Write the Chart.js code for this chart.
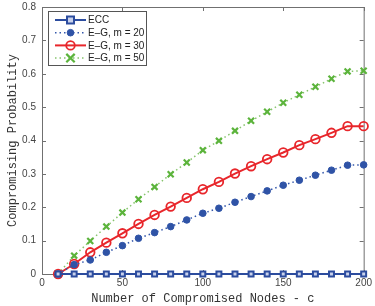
<!DOCTYPE html>
<html>
<head>
<meta charset="utf-8">
<script src="https://cdn.jsdelivr.net/npm/chart.js@4/dist/chart.umd.min.js"></script>
<style>
  html, body { margin: 0; padding: 0; background: #fff; }
  #wrap { width: 375px; height: 306px; position: relative; }
</style>
</head>
<body>
<div id="wrap"><canvas id="chart" width="375" height="306"></canvas></div>
<script>
// ================================
// DATA
// ================================
const compromisedNodes = [10, 20, 30, 40, 50, 60, 70, 80, 90, 100, 110, 120, 130, 140, 150, 160, 170, 180, 190, 200];
const ecc  = [0, 0, 0, 0, 0, 0, 0, 0, 0, 0, 0, 0, 0, 0, 0, 0, 0, 0, 0, 0];
const eg20 = [0, 0.028, 0.042, 0.065, 0.085, 0.107, 0.124, 0.142, 0.162, 0.182, 0.197, 0.215, 0.232, 0.249, 0.266, 0.281, 0.296, 0.311, 0.326, 0.327];
const eg30 = [0, 0.030, 0.065, 0.094, 0.122, 0.150, 0.177, 0.202, 0.228, 0.254, 0.276, 0.301, 0.323, 0.344, 0.364, 0.386, 0.404, 0.423, 0.443, 0.443];
const eg50 = [0, 0.055, 0.099, 0.142, 0.184, 0.224, 0.261, 0.299, 0.334, 0.371, 0.399, 0.429, 0.459, 0.486, 0.513, 0.537, 0.561, 0.585, 0.607, 0.609];

const seriesLabels = ['ECC', 'E\u2013G, m = 20', 'E\u2013G, m = 30', 'E\u2013G, m = 50'];
const xTitle = 'Number of Compromised Nodes - c';
const yTitle = 'Compromising Probability';

// ================================
// UTILS
// ================================
const toPoints = (ys) => compromisedNodes.map((x, i) => ({ x, y: ys[i] }));

const BOX_COLOR = '#707070';
const LABEL_COLOR = '#444';
const TICK_FONT = { family: '"Liberation Sans", Arial, sans-serif', size: 10 };
const MONO_FONT = { family: '"Liberation Mono", "Courier New", monospace', size: 12 };

// ================================
// PLUGINS
// ================================
// MATLAB-style box with inward ticks
const boxPlugin = {
  id: 'matlabBox',
  beforeDatasetsDraw(chart) {
    const { ctx, chartArea: a, scales } = chart;
    ctx.save();
    ctx.strokeStyle = BOX_COLOR;
    ctx.lineWidth = 1;
    ctx.strokeRect(a.left + 0.5, a.top + 0.5, a.right - a.left, a.bottom - a.top);
    ctx.beginPath();
    scales.y.ticks.forEach(t => {
      const y = Math.round(scales.y.getPixelForValue(t.value)) + 0.5;
      ctx.moveTo(a.left, y); ctx.lineTo(a.left + 4, y);
      ctx.moveTo(a.right, y); ctx.lineTo(a.right - 4, y);
    });
    scales.x.ticks.forEach(t => {
      const x = Math.round(scales.x.getPixelForValue(t.value)) + 0.5;
      ctx.moveTo(x, a.top); ctx.lineTo(x, a.top + 4);
      ctx.moveTo(x, a.bottom); ctx.lineTo(x, a.bottom - 4);
    });
    ctx.stroke();
    ctx.restore();
  },
  // x tick labels, placed from the x scale's own ticks
  afterDraw(chart) {
    const { ctx, chartArea: a, scales } = chart;
    ctx.save();
    ctx.fillStyle = LABEL_COLOR;
    ctx.font = `${TICK_FONT.size}px ${TICK_FONT.family}`;
    ctx.textAlign = 'center';
    ctx.textBaseline = 'top';
    scales.x.ticks.forEach(t => {
      ctx.fillText(t.label, scales.x.getPixelForValue(t.value), a.bottom + 4);
    });
    ctx.restore();
  }
};

// legend with line + marker samples, drawn inside the plot
const matlabLegend = {
  id: 'matlabLegend',
  afterDraw(chart) {
    const { ctx, chartArea: a } = chart;
    const left = a.left + 6, top = a.top + 4, w = 98, h = 54, rowH = 12.7;
    ctx.save();
    ctx.fillStyle = '#fff';
    ctx.fillRect(left, top, w, h);
    ctx.strokeStyle = '#555';
    ctx.lineWidth = 1;
    ctx.strokeRect(left + 0.5, top + 0.5, w, h);
    chart.data.datasets.forEach((ds, i) => {
      const y = top + 9 + i * rowH;
      ctx.strokeStyle = ds.borderColor;
      ctx.lineWidth = ds.borderWidth;
      ctx.setLineDash(ds.borderDash || []);
      ctx.beginPath();
      ctx.moveTo(left + 7, y); ctx.lineTo(left + 38, y);
      ctx.stroke();
      ctx.setLineDash([]);
      ctx.fillStyle = ds.pointBackgroundColor;
      ctx.strokeStyle = ds.pointBorderColor;
      ctx.lineWidth = ds.pointBorderWidth;
      drawMarker(ctx, ds.pointStyle, ds.pointRadius, left + 22.5, y);
      ctx.fillStyle = '#222';
      ctx.font = '10px "Liberation Sans", Arial, sans-serif';
      ctx.textBaseline = 'middle';
      ctx.fillText(ds.label, left + 40, y + 0.5);
    });
    ctx.restore();
  }
};

function drawMarker(ctx, style, r, x, y) {
  ctx.beginPath();
  if (style === 'rect') {
    ctx.rect(x - r, y - r, 2 * r, 2 * r);
    ctx.fill(); ctx.stroke();
  } else if (style === 'crossRot') {
    ctx.moveTo(x - r, y - r); ctx.lineTo(x + r, y + r);
    ctx.moveTo(x + r, y - r); ctx.lineTo(x - r, y + r);
    ctx.stroke();
  } else {
    ctx.arc(x, y, r, 0, Math.PI * 2);
    ctx.fill(); ctx.stroke();
  }
}

// ================================
// CHART
// ================================
const datasets = [
  {
    label: seriesLabels[0], data: toPoints(ecc),
    borderColor: '#2c4c9e', borderWidth: 2,
    pointStyle: 'rect', pointRadius: 3.5, pointBorderWidth: 2,
    pointBorderColor: '#2c4c9e', pointBackgroundColor: '#c9d2ec'
  },
  {
    label: seriesLabels[1], data: toPoints(eg20),
    borderColor: '#3558ab', borderWidth: 1.5, borderDash: [1.5, 3],
    pointStyle: 'circle', pointRadius: 3.3, pointBorderWidth: 1,
    pointBorderColor: '#2f53a6', pointBackgroundColor: '#2f53a6'
  },
  {
    label: seriesLabels[2], data: toPoints(eg30),
    borderColor: '#e8262b', borderWidth: 2,
    pointStyle: 'circle', pointRadius: 4.3, pointBorderWidth: 1.8,
    pointBorderColor: '#e8262b', pointBackgroundColor: 'rgba(255,255,255,0)'
  },
  {
    label: seriesLabels[3], data: toPoints(eg50),
    borderColor: '#86c46c', borderWidth: 1.5, borderDash: [1.5, 3],
    pointStyle: 'crossRot', pointRadius: 4.2, pointBorderWidth: 2.2,
    pointBorderColor: '#5cb43c', pointBackgroundColor: '#5cb43c'
  }
].map(ds => ({ ...ds, fill: false, tension: 0, clip: false, pointHoverRadius: ds.pointRadius }));

new Chart(document.getElementById('chart'), {
  type: 'line',
  data: { datasets },
  options: {
    responsive: false,
    animation: false,
    events: [],
    layout: { padding: { left: 0, right: 10, top: 7, bottom: 0 } },
    plugins: { legend: { display: false }, tooltip: { enabled: false } },
    scales: {
      x: {
        type: 'linear', min: 0, max: 200,
        grid: { display: false, drawTicks: false },
        border: { display: false },
        // labels are painted by the box plugin; keep them here for spacing
        ticks: { stepSize: 50, padding: 3, color: 'rgba(0,0,0,0)', font: TICK_FONT, maxRotation: 0, autoSkip: false },
        title: { display: true, text: xTitle, color: '#333', font: MONO_FONT, padding: { top: 2, bottom: 0 } },
        afterFit: (s) => { s.height = 32; }
      },
      y: {
        min: 0, max: 0.8,
        grid: { display: false, drawTicks: false },
        border: { display: false },
        ticks: { stepSize: 0.1, padding: 6, color: LABEL_COLOR, font: TICK_FONT,
                 callback: (v) => (Math.round(v * 10) / 10).toString() },
        title: { display: true, text: yTitle, color: '#333', font: MONO_FONT, padding: { top: 6, bottom: 0 } },
        afterFit: (s) => { s.width = 42; s.paddingTop = 0; s.paddingBottom = 0; }
      }
    }
  },
  plugins: [boxPlugin, matlabLegend]
});
</script>
</body>
</html>
